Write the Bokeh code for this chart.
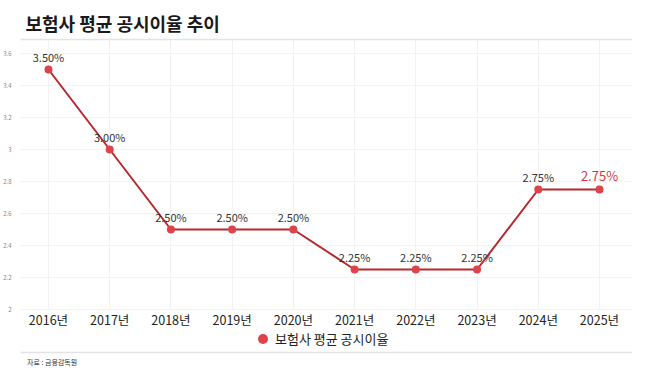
from bokeh.plotting import figure
from bokeh.models import (ColumnDataSource, Range1d, FixedTicker, NumeralTickFormatter,
                          Span, Label, Legend, LegendItem, Grid)
from bokeh.embed import file_html
from bokeh.resources import INLINE
from bokeh.core.properties import value

# ---- data ----
years = ["2016년", "2017년", "2018년", "2019년", "2020년",
         "2021년", "2022년", "2023년", "2024년", "2025년"]
rates = [3.50, 3.00, 2.50, 2.50, 2.50, 2.25, 2.25, 2.25, 2.75, 2.75]
rate_labels = ["3.50%", "3.00%", "2.50%", "2.50%", "2.50%",
               "2.25%", "2.25%", "2.25%", "2.75%", "2.75%"]
y_ticks = [2.0, 2.2, 2.4, 2.6, 2.8, 3.0, 3.2, 3.4, 3.6]
title_text = "보험사 평균 공시이율 추이"
series_name = "보험사 평균 공시이율"
source_text = "자료 : 금융감독원"

FONT = "Noto Sans CJK KR"
idx = list(range(len(years)))
label_colors = ["#333333"] * (len(years) - 1) + ["#d0363d"]
label_sizes = ["11px"] * (len(years) - 1) + ["13px"]

src = ColumnDataSource(dict(x=idx, y=rates, lab=rate_labels,
                            col=label_colors, fs=label_sizes))

p = figure(width=658, height=369, output_backend="svg", toolbar_location=None,
           x_range=Range1d(-0.457, 9.539), y_range=Range1d(1.625, 3.93125),
           min_border_left=0, min_border_right=26, min_border_top=0,
           min_border_bottom=0, outline_line_color=None)
p.background_fill_color = "white"
p.border_fill_color = "white"

# axes
p.xaxis.ticker = FixedTicker(ticks=idx)
p.xaxis.major_label_overrides = {i: y for i, y in enumerate(years)}
p.xaxis.fixed_location = 2.0625
p.xaxis.axis_line_color = None
p.xaxis.major_tick_line_color = None
p.xaxis.minor_tick_line_color = None
p.xaxis.major_label_standoff = 4
p.xaxis.major_label_text_font = FONT
p.xaxis.major_label_text_font_size = "12.5px"
p.xaxis.major_label_text_color = "#222222"

p.yaxis.ticker = FixedTicker(ticks=y_ticks)
p.yaxis.formatter = NumeralTickFormatter(format="0.[0]")
p.yaxis.axis_line_color = None
p.yaxis.major_tick_line_color = None
p.yaxis.minor_tick_line_color = None
p.yaxis.major_label_standoff = 3
p.yaxis.major_label_text_font = FONT
p.yaxis.major_label_text_font_size = "6px"
p.yaxis.major_label_text_color = "#888888"

# grids
p.ygrid.ticker = FixedTicker(ticks=y_ticks)
p.ygrid.grid_line_color = "#f2f2f2"
p.xgrid.ticker = FixedTicker(ticks=idx)
p.xgrid.grid_line_color = "#f2f2f2"
if "cross_bounds" in Grid.properties():
    p.xgrid.cross_bounds = (2.0, 3.6875)

# separators
p.add_layout(Span(location=3.6875, dimension="width", line_color="#e3e3e3", line_width=1.5))
p.add_layout(Span(location=1.73125, dimension="width", line_color="#e3e3e3", line_width=1.5))

# series
p.line("x", "y", source=src, line_color="#b8292f", line_width=2)
sc = p.scatter("x", "y", source=src, size=8, fill_color="#dc434a", line_color=None)
p.text("x", "y", text="lab", source=src, text_align="center", text_baseline="bottom",
       y_offset=-5, text_font=value(FONT), text_font_size="fs", text_color="col")

# title and source
p.add_layout(Label(x=-0.376, y=3.79375, text=title_text, text_font=FONT,
                   text_font_size="18px", text_font_style="bold", text_color="#1a1a1a",
                   text_baseline="middle", text_align="left"))
p.add_layout(Label(x=-0.35, y=1.675, text=source_text, text_font=FONT,
                   text_font_size="7px", text_color="#333333",
                   text_baseline="middle", text_align="left"))

legend = Legend(items=[LegendItem(label=series_name, renderers=[sc])],
                location=(230, 18), padding=0, margin=0, spacing=0,
                glyph_width=25, glyph_height=25, label_standoff=-5,
                label_text_font=FONT, label_text_font_size="13px",
                label_text_color="#222222", border_line_color=None,
                background_fill_alpha=0)
p.add_layout(legend)

open("out.html", "w").write(file_html(p, INLINE))
